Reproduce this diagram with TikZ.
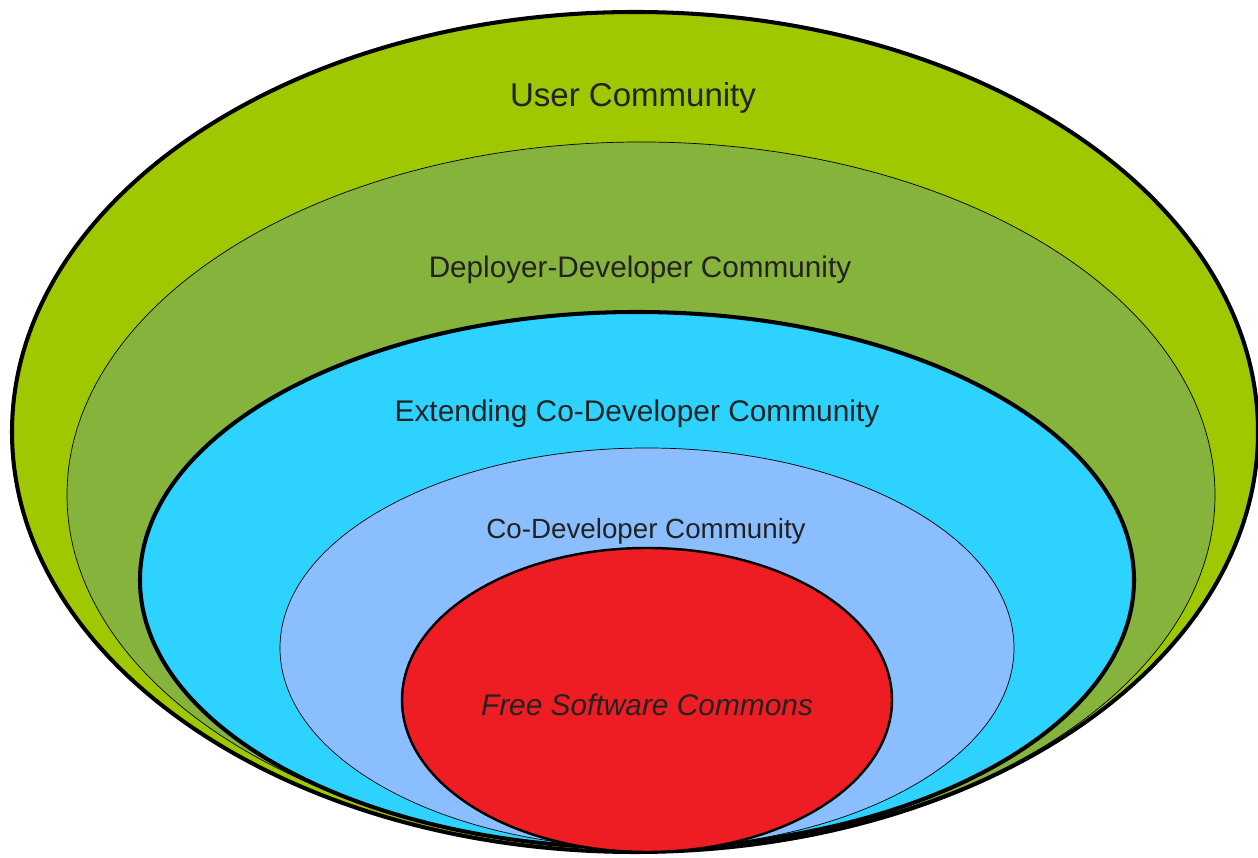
\documentclass[tikz,border=0pt]{standalone}
\usepackage{fontspec}
\setmainfont{Liberation Sans}
\usetikzlibrary{positioning}

\definecolor{usergreen}{HTML}{A0C800}
\definecolor{deploygreen}{HTML}{86B33B}
\definecolor{extcyan}{HTML}{2ED2FF}
\definecolor{codevblue}{HTML}{8BBEFF}
\definecolor{commonsred}{HTML}{EE1C23}
\definecolor{labelgray}{HTML}{222222}

\begin{document}
\begin{tikzpicture}
[x=0.02cm,y=0.02cm,
ring/.style={draw=black,line width=0.4pt},
thickring/.style={draw=black,line width=2.3pt},
lbl/.style={text=labelgray,inner sep=0pt}]

\useasboundingbox (0,0) rectangle (1258,858);

%Community rings
\filldraw[thickring,fill=usergreen] (635,426) ellipse [x radius=623,y radius=420];
\filldraw[ring,fill=deploygreen] (641,363) ellipse [x radius=574,y radius=353];
\filldraw[thickring,fill=extcyan] (637,278) ellipse [x radius=497,y radius=268];
\filldraw[ring,fill=codevblue] (647,210) ellipse [x radius=367,y radius=200];
\filldraw[draw=black,line width=1.4pt,fill=commonsred] (647,158) ellipse [x radius=245,y radius=152];

%Labels
\node[lbl,font=\fontsize{18.8}{20}\selectfont] (user) at (633,760) {User Community};
\node[lbl,font=\fontsize{16.9}{20}\selectfont] (deploy) at (640,588) {Deployer-Developer Community};
\node[lbl,font=\fontsize{17}{20}\selectfont] (extend) at (637,444) {Extending Co-Developer Community};
\node[lbl,font=\fontsize{15.8}{20}\selectfont] (codev) at (646,327) {Co-Developer Community};
\node[lbl,font=\fontsize{17}{20}\selectfont\itshape] (commons) at (647,153) {Free Software Commons};

\end{tikzpicture}
\end{document}
